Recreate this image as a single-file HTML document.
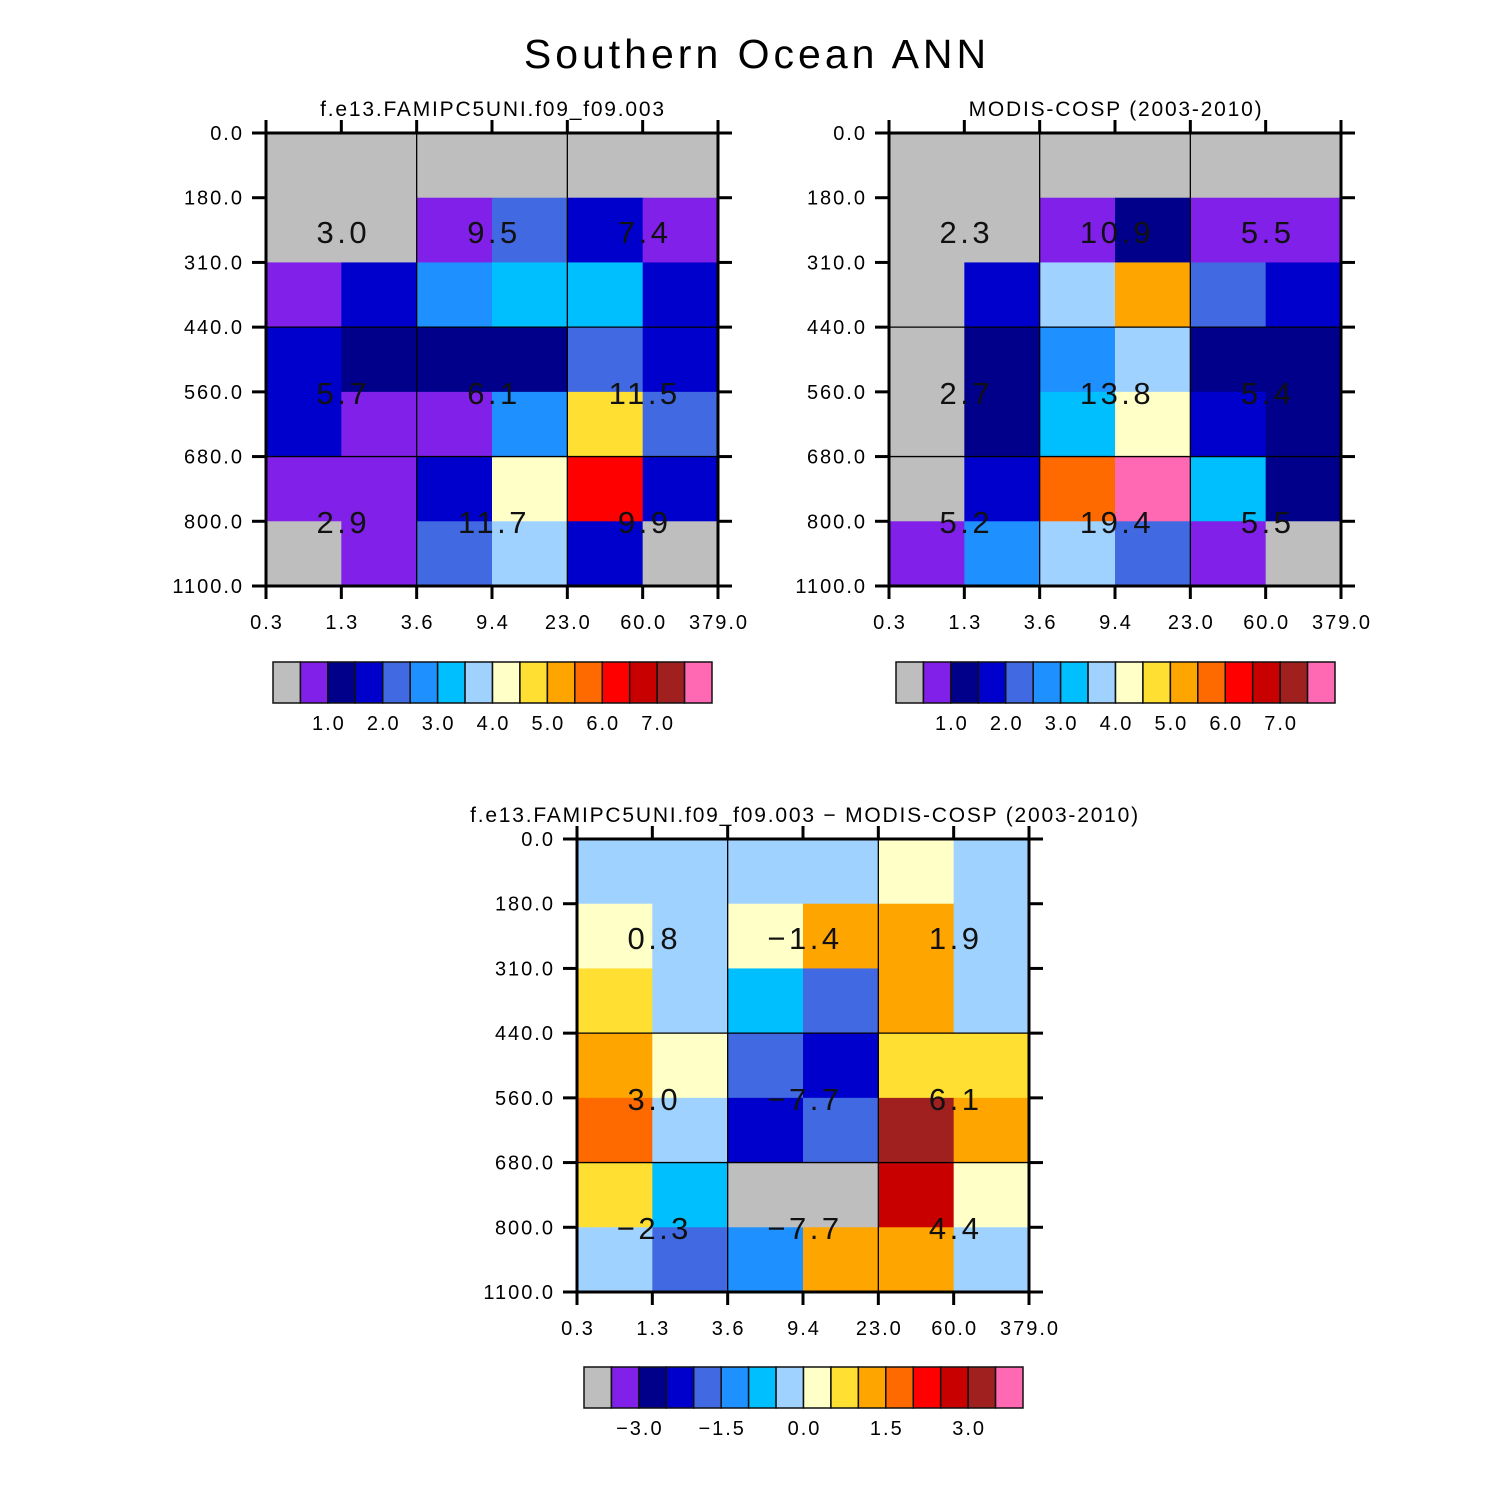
<!DOCTYPE html>
<html><head><meta charset="utf-8">
<style>
html,body{margin:0;padding:0;background:#fff;}
svg{display:block;font-family:"Liberation Sans",sans-serif;}
</style></head>
<body>
<svg id="root" width="1510" height="1510" viewBox="0 0 1510 1510" xmlns="http://www.w3.org/2000/svg">
<rect width="1510" height="1510" fill="#fff"/>
<text x="757" y="68" font-size="41" text-anchor="middle" fill="#000" letter-spacing="4">Southern Ocean ANN</text>
</svg>
<script>
// ---- data ----
const xTickLabels = ["0.3","1.3","3.6","9.4","23.0","60.0","379.0"];
const yTickLabels = ["0.0","180.0","310.0","440.0","560.0","680.0","800.0","1100.0"];
const palette = ["#bebebe","#8020e8","#00008b","#0000cd","#4169e1","#1e90ff","#00bfff","#a0d2ff","#ffffc8","#ffe032","#ffa500","#ff6a00","#ff0000","#c80000","#a02020","#ff69b4"];
const levelsAbs = [0.5,1,1.5,2,2.5,3,3.5,4,4.5,5,5.5,6,6.5,7,7.5];
const levelsDiff = [-3.5,-3,-2.5,-2,-1.5,-1,-0.5,0,0.5,1,1.5,2,2.5,3,3.5];
const cbLabelsAbs = ["1.0","2.0","3.0","4.0","5.0","6.0","7.0"];
const cbLabelValsAbs = [1,2,3,4,5,6,7];
const cbLabelsDiff = ["−3.0","−1.5","0.0","1.5","3.0"];
const cbLabelValsDiff = [-3,-1.5,0,1.5,3];
// cell values, rows top (0-180) to bottom (800-1100), cols left to right
const modelValues = [
 [0.2,0.2,0.2,0.2,0.2,0.2],
 [0.2,0.2,0.75,2.25,1.75,0.75],
 [0.75,1.75,2.75,3.25,3.25,1.75],
 [1.75,1.25,1.25,1.25,2.25,1.75],
 [1.75,0.75,0.75,2.75,4.75,2.25],
 [0.75,0.75,1.75,4.25,6.25,1.75],
 [0.2,0.75,2.25,3.75,1.75,0.2]];
const obsValues = [
 [0.2,0.2,0.2,0.2,0.2,0.2],
 [0.2,0.2,0.75,1.25,0.75,0.75],
 [0.2,1.75,3.75,5.25,2.25,1.75],
 [0.2,1.25,2.75,3.75,1.25,1.25],
 [0.2,1.25,3.25,4.25,1.75,1.25],
 [0.2,1.75,5.75,8.0,3.25,1.25],
 [0.75,2.75,3.75,2.25,0.75,0.2]];
const diffValues = [
 [-0.25,-0.25,-0.25,-0.25,0.25,-0.25],
 [0.25,-0.25,0.25,1.25,1.25,-0.25],
 [0.75,-0.25,-0.75,-1.75,1.25,-0.25],
 [1.25,0.25,-1.75,-2.25,0.75,0.75],
 [1.75,-0.25,-2.25,-1.75,3.25,1.25],
 [0.75,-0.75,-4,-4,2.75,0.25],
 [-0.25,-1.75,-1.25,1.25,1.25,-0.25]];
const modelTotals = ["3.0","9.5","7.4","5.7","6.1","11.5","2.9","11.7","9.9"];
const obsTotals = ["2.3","10.9","5.5","2.7","13.8","5.4","5.2","19.4","5.5"];
const diffTotals = ["0.8","−1.4","1.9","3.0","−7.7","6.1","−2.3","−7.7","4.4"];

const NS="http://www.w3.org/2000/svg";
const root=document.getElementById('root');
function mk(tag,attrs,parent){const e=document.createElementNS(NS,tag);for(const k in attrs)e.setAttribute(k,attrs[k]);(parent||root).appendChild(e);return e;}
function colorIndex(v,levels){let i=0;for(const l of levels){if(v>=l)i++;}return i;}

function panel(name,x0,y0,values,totals,levels,title,titleX){
  const W=452,H=453,nc=6,nr=7;
  const g=mk('g',{});
  
  
  const xs=i=>x0+W*i/nc, ys=j=>y0+H*j/nr;
  values.forEach((row,r)=>row.forEach((v,c)=>{
    const rc=mk('rect',{x:xs(c),y:ys(r),width:W/nc+0.5,height:H/nr+0.5,fill:palette[colorIndex(v,levels)]},g);
    
    
  }));
  [2,4].forEach(c=>mk('line',{x1:xs(c),x2:xs(c),y1:y0,y2:y0+H,stroke:'#000','stroke-width':1.3},g));
  [3,5].forEach(r=>mk('line',{x1:x0,x2:x0+W,y1:ys(r),y2:ys(r),stroke:'#000','stroke-width':1.3},g));
  const tx=[1,3,5], ty=[232,393,522].map(v=>v-133);
  totals.forEach((t,i)=>{
    const te=mk('text',{x:xs(tx[i%3])+2,y:y0+ty[Math.floor(i/3)]+11,'font-size':31,'text-anchor':'middle',fill:'#111','letter-spacing':3.5},g);
    te.textContent=t;
    
    
  });
  mk('rect',{x:x0,y:y0,width:W,height:H,fill:'none',stroke:'#000','stroke-width':3},g);
  for(let i=0;i<=nc;i++){
    mk('line',{x1:xs(i),x2:xs(i),y1:y0+H,y2:y0+H+13,stroke:'#000','stroke-width':3},g);
    mk('line',{x1:xs(i),x2:xs(i),y1:y0,y2:y0-13,stroke:'#000','stroke-width':3},g);
    const t=mk('text',{x:xs(i)+1,y:y0+H+43,'font-size':20,'text-anchor':'middle','letter-spacing':2},g);
    t.textContent=xTickLabels[i];
    
    
  }
  for(let j=0;j<=nr;j++){
    mk('line',{x1:x0-14,x2:x0,y1:ys(j),y2:ys(j),stroke:'#000','stroke-width':3},g);
    mk('line',{x1:x0+W,x2:x0+W+14,y1:ys(j),y2:ys(j),stroke:'#000','stroke-width':3},g);
    const t=mk('text',{x:x0-22,y:ys(j)+7,'font-size':20,'text-anchor':'end','letter-spacing':2},g);
    t.textContent=yTickLabels[j];
    
    
  }
  const tt=mk('text',{x:titleX,y:y0-17,'font-size':21,'text-anchor':'middle','letter-spacing':1.8},g);
  tt.textContent=title;
  
  
}

function colorbar(name,x0,y0,levels,labels,labelVals){
  const W=439,H=41,n=palette.length,bw=W/n;
  const g=mk('g',{});
  
  
  palette.forEach((c,i)=>{
    const r=mk('rect',{x:x0+i*bw,y:y0,width:bw,height:H,fill:c,stroke:'#111','stroke-width':1.5},g);
    
    
  });
  const step=levels[1]-levels[0];
  labels.forEach((l,i)=>{
    const bIdx=(labelVals[i]-levels[0])/step+1;
    const t=mk('text',{x:x0+bIdx*bw+1,y:y0+H+27,'font-size':20,'text-anchor':'middle','letter-spacing':2},g);
    t.textContent=l;
    
    
  });
}

panel('model-panel',266,133,modelValues,modelTotals,levelsAbs,'f.e13.FAMIPC5UNI.f09_f09.003',493);
panel('obs-panel',889,133,obsValues,obsTotals,levelsAbs,'MODIS-COSP (2003-2010)',1116);
panel('diff-panel',577,839,diffValues,diffTotals,levelsDiff,'f.e13.FAMIPC5UNI.f09_f09.003 − MODIS-COSP (2003-2010)',805);
colorbar('model-colorbar',273,662,levelsAbs,cbLabelsAbs,cbLabelValsAbs);
colorbar('obs-colorbar',896,662,levelsAbs,cbLabelsAbs,cbLabelValsAbs);
colorbar('diff-colorbar',584,1367,levelsDiff,cbLabelsDiff,cbLabelValsDiff);
</script>
</body></html>
